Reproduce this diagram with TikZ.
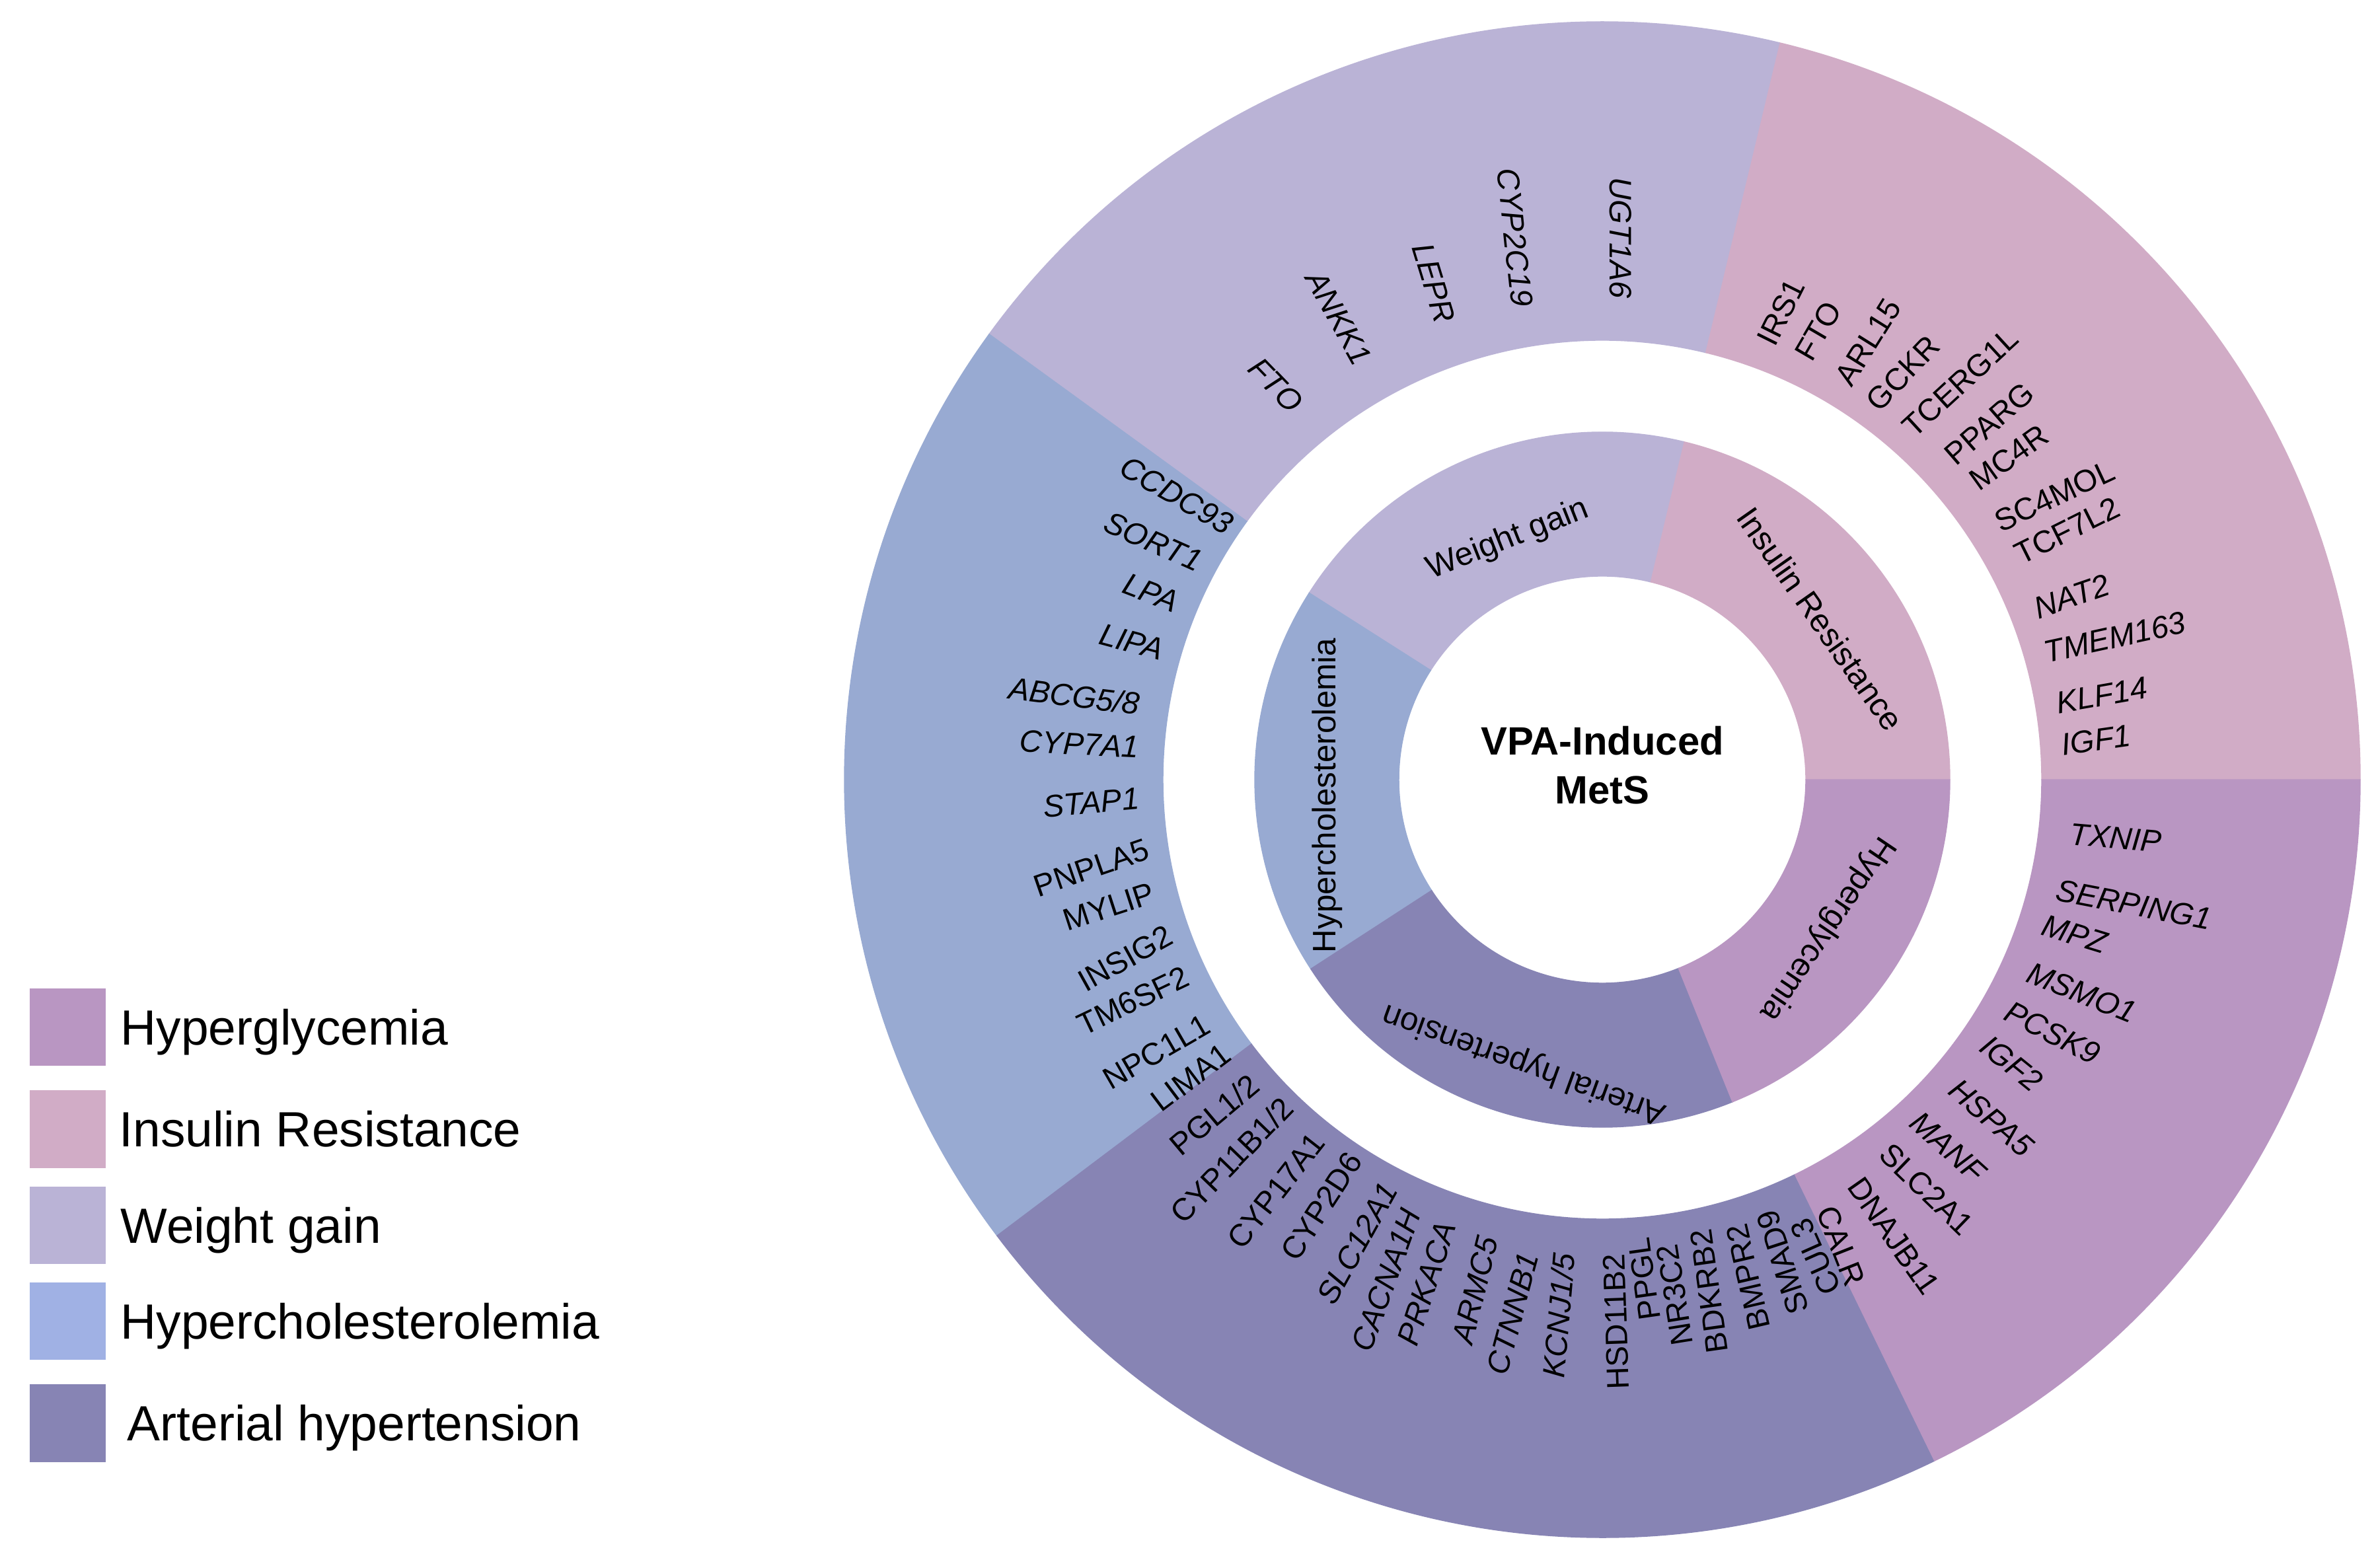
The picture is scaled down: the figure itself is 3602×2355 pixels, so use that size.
\documentclass[tikz,border=0pt]{standalone}
\usepackage{fontspec}
\setmainfont{Liberation Sans}
\definecolor{cHG}{RGB}{185,150,194}
\definecolor{cIR}{RGB}{209,172,198}
\definecolor{cWG}{RGB}{186,179,214}
\definecolor{cHC}{RGB}{152,170,210}
\definecolor{cHCl}{RGB}{160,177,228}
\definecolor{cAH}{RGB}{135,132,180}
\tikzset{
 gene/.style={font=\fontsize{13.4}{16}\selectfont, inner sep=0pt, text=black},
 geneit/.style={font=\fontsize{13.4}{16}\selectfont\itshape, inner sep=0pt, text=black},
 inlab/.style={font=\fontsize{14}{17}\selectfont, inner sep=0pt, text=black},
 swatch/.style={minimum width=1.15cm, minimum height=1.17cm, inner sep=0pt, draw=none},
 legtxt/.style={font=\fontsize{21.3}{25}\selectfont, inner sep=0pt, anchor=base west, text=black},
}
\newcommand{\ringsec}[5]{\fill[#5, draw=#5, line width=0.4pt] (#1:#3) arc[start angle=#1, end angle=#2, radius=#3] -- (#2:#4) arc[start angle=#2, end angle=#1, radius=#4] -- cycle;}
\begin{document}
\begin{tikzpicture}[x=0.01cm,y=0.01cm]
\useasboundingbox (0,0) rectangle (3602,2355);
\fill[white] (0,0) rectangle (3602,2355);
\begin{scope}[shift={(2425,1175)}]
% outer ring
\ringsec{0}{76.5}{665}{1147}{cIR}
\ringsec{76.5}{144}{665}{1147}{cWG}
\ringsec{144}{217}{665}{1147}{cHC}
\ringsec{217}{296}{665}{1147}{cAH}
\ringsec{296}{360}{665}{1147}{cHG}
% inner ring
\ringsec{0}{76.5}{308}{526}{cIR}
\ringsec{76.5}{147.5}{308}{526}{cWG}
\ringsec{147.5}{213}{308}{526}{cHC}
\ringsec{213}{292}{308}{526}{cAH}
\ringsec{292}{360}{308}{526}{cHG}
% centre
\node[align=center, inner sep=0pt, font=\bfseries\fontsize{17}{21}\selectfont] (vpa) at (0,22) {VPA-Induced\\MetS};
% inner ring labels
\node[inlab, rotate=21.5] (lwg) at (111.5:390) {Weight gain};
\node[inlab, rotate=-55] (lir) at (36.4:410) {Insulin Resistance};
\node[inlab, rotate=-124] (lhg) at (-33.6:408) {Hyperglycemia};
\node[inlab, rotate=160] (lah) at (-105.4:445) {Arterial hypertension};
\node[inlab, rotate=90] (lhc) at (183.3:417) {Hypercholesterolemia};
% weight gain genes
\node[geneit, anchor=east, rotate=-90] (w1) at (87.8:728) {UGT1A6};
\node[geneit, anchor=east, rotate=-84] (w2) at (99.6:726) {CYP2C19};
\node[geneit, anchor=east, rotate=-73] (w3) at (108.9:731) {LEPR};
\node[geneit, anchor=east, rotate=-61] (w4) at (119.8:727) {ANKK1};
\node[geneit, anchor=east, rotate=-46] (w5) at (129.3:728) {FTO};
% insulin resistance genes
\node[gene, anchor=base west, rotate=63.5] (i1) at (68.2:703) {IRS1};
\node[gene, anchor=base west, rotate=59.7] (i2) at (63.3:705) {FTO};
\node[gene, anchor=base west, rotate=58] (i3) at (57.5:702) {ARL15};
\node[gene, anchor=base west, rotate=46.4] (i4) at (52.9:695) {GCKR};
\node[gene, anchor=base west, rotate=42.6] (i5) at (47.5:699) {TCERG1L};
\node[gene, anchor=base west, rotate=41] (i6) at (41.5:714) {PPARG};
\node[gene, anchor=base west, rotate=35.6] (i7) at (37.4:717) {MC4R};
\node[gene, anchor=base west, rotate=25] (i8) at (31.8:709) {SC4MOL};
\node[gene, anchor=base west, rotate=26.5] (i9) at (27.1:712) {TCF7L2};
\node[geneit, anchor=base west, rotate=19] (i10) at (20.2:703) {NAT2};
\node[geneit, anchor=base west, rotate=12.3] (i11) at (14.7:695) {TMEM163};
\node[geneit, anchor=base west, rotate=10] (i12) at (8.2:697) {KLF14};
\node[geneit, anchor=base west, rotate=8] (i13) at (3.0:698) {IGF1};
% hyperglycemia genes
\node[geneit, anchor=west, rotate=-5] (h1) at (-6.6:712) {TXNIP};
\node[geneit, anchor=west, rotate=-11] (h2) at (-13.6:707) {SERPING1};
\node[geneit, anchor=west, rotate=-17] (h3) at (-18.2:702) {MPZ};
\node[geneit, anchor=west, rotate=-22] (h4) at (-24.2:707) {MSMO1};
\node[geneit, anchor=west, rotate=-27] (h5) at (-29.6:704) {PCSK9};
\node[geneit, anchor=west, rotate=-39] (h6) at (-34.4:701) {IGF2};
\node[geneit, anchor=west, rotate=-41] (h7) at (-41:704) {HSPA5};
\node[geneit, anchor=west, rotate=-42] (h8) at (-47.2:696) {MANF};
\node[gene, anchor=west, rotate=-44] (h9) at (-52.6:703) {SLC2A1};
\node[gene, anchor=west, rotate=-55] (h10) at (-57.8:717) {DNAJB11};
\node[gene, anchor=west, rotate=-68.5] (h11) at (-62.4:730) {CALR};
% hypercholesterolemia genes
\node[geneit, anchor=east, rotate=-30] (c1) at (145.7:680) {CCDC93};
\node[geneit, anchor=east, rotate=-24] (c2) at (151.6:691) {SORT1};
\node[geneit, anchor=east, rotate=-21] (c3) at (157.4:696) {LPA};
\node[geneit, anchor=east, rotate=-15] (c4) at (163.6:692) {LIPA};
\node[geneit, anchor=east, rotate=-7] (c5) at (170.7:709) {ABCG5/8};
\node[geneit, anchor=east, rotate=-3] (c6) at (176:702) {CYP7A1};
\node[geneit, anchor=east, rotate=5] (c7) at (182.3:701) {STAP1};
\node[gene, anchor=east, rotate=19] (c8) at (188.6:695) {PNPLA5};
\node[gene, anchor=east, rotate=18] (c9) at (194.1:700) {MYLIP};
\node[gene, anchor=east, rotate=29] (c10) at (199.6:694) {INSIG2};
\node[gene, anchor=east, rotate=25.5] (c11) at (205.2:694) {TM6SF2};
\node[gene, anchor=east, rotate=30] (c12) at (211.6:701) {NPC1L1};
\node[gene, anchor=east, rotate=37] (c13) at (215.8:700) {LIMA1};
% arterial hypertension genes
\node[gene, anchor=east, rotate=40] (a1) at (220.9:695) {PGL1/2};
\node[gene, anchor=east, rotate=46] (a2) at (225.7:682) {CYP11B1/2};
\node[gene, anchor=east, rotate=52] (a3) at (231.5:690) {CYP17A1};
\node[gene, anchor=east, rotate=57] (a4) at (236.6:681) {CYP2D6};
\node[geneit, anchor=east, rotate=61] (a5) at (242.3:692) {SLC12A1};
\node[geneit, anchor=east, rotate=70] (a6) at (246.1:712) {CACNA1H};
\node[geneit, anchor=east, rotate=72] (a7) at (250.6:710) {PRKACA};
\node[geneit, anchor=east, rotate=76] (a8) at (256:713) {ARMC5};
\node[geneit, anchor=east, rotate=75] (a9) at (261.2:725) {CTNNB1};
\node[geneit, anchor=east, rotate=85] (a10) at (265.4:719) {KCNJ1/5};
\node[gene, anchor=east, rotate=92] (a11) at (271.4:717) {HSD11B2};
\node[gene, anchor=east, rotate=98] (a12) at (274.5:695) {PPGL};
\node[gene, anchor=east, rotate=99] (a13) at (277.9:710) {NR3C2};
\node[gene, anchor=east, rotate=98] (a14) at (282.3:696) {BDKRB2};
\node[gene, anchor=east, rotate=103] (a15) at (286.7:703) {BMPR2};
\node[gene, anchor=east, rotate=108] (a16) at (290.8:698) {SMAD9};
\node[gene, anchor=east, rotate=114] (a17) at (294.1:730) {CUL3};
\end{scope}
% legend
\node[swatch, fill=cHG] (sw1) at (102.5,800.5) {};
\node[swatch, fill=cIR] (sw2) at (102.5,646) {};
\node[swatch, fill=cWG] (sw3) at (102.5,500.5) {};
\node[swatch, fill=cHCl] (sw4) at (102.5,355.5) {};
\node[swatch, fill=cAH] (sw5) at (102.5,201) {};
\node[legtxt] (lt1) at (182,773.5) {Hyperglycemia};
\node[legtxt] (lt2) at (180,619) {Insulin Resistance};
\node[legtxt] (lt3) at (182,473.5) {Weight gain};
\node[legtxt] (lt4) at (182,328.5) {Hypercholesterolemia};
\node[legtxt] (lt5) at (192,174) {Arterial hypertension};
\end{tikzpicture}
\end{document}
